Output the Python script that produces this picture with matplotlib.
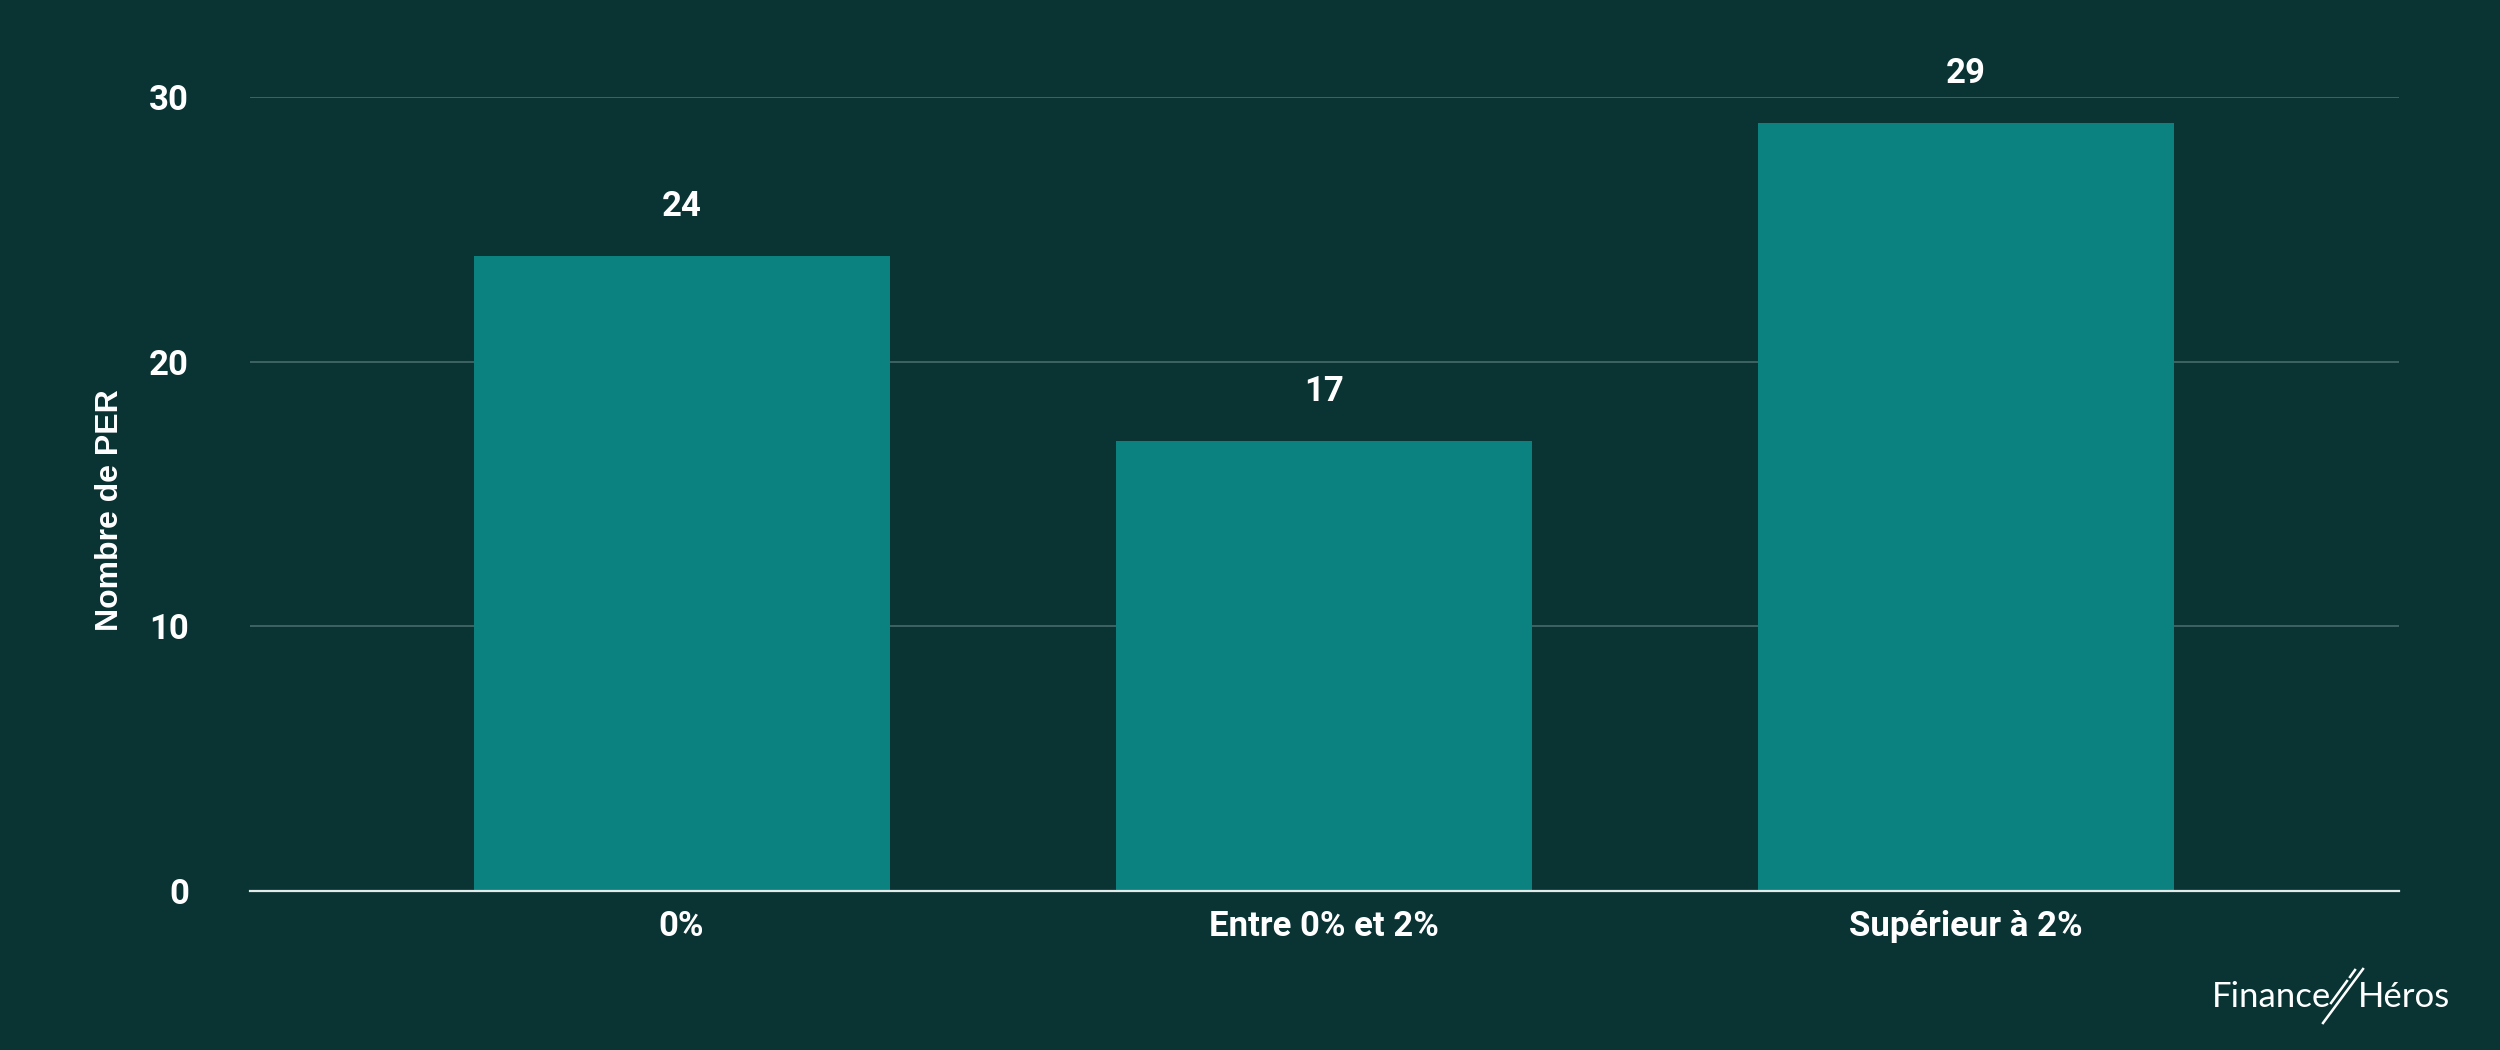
import matplotlib
matplotlib.use("Agg")
import matplotlib.pyplot as plt
from matplotlib.lines import Line2D

# Daten
categories = ["0%", "Entre 0% et 2%", "Supérieur à 2%"]
values = [24, 17, 29]
y_ticks = [0, 10, 20, 30]

BG = "#0a3334"
BAR = "#0b8180"
GRID = "#3f6263"
WHITE = "#ffffff"

fig = plt.figure(figsize=(25, 10.5), dpi=100, facecolor=BG)
ax = fig.add_axes([0.1, 0.1514, 0.8596, 0.7562])
ax.set_facecolor(BG)

x = range(len(categories))
bars = ax.bar(x, values, width=0.648, color=BAR, zorder=3)

# Werte über den Balken
for b, v in zip(bars, values):
    ax.annotate(str(v), (b.get_x() + b.get_width() / 2, v),
                xytext=(0, 29), textcoords="offset points",
                ha="center", va="baseline", color=WHITE,
                fontsize=25, fontweight="bold", family="Roboto")

ax.set_xlim(-0.672, 2.674)
ax.set_ylim(0, 30)
ax.set_yticks(y_ticks)
ax.set_yticklabels([str(t) for t in y_ticks])
ax.set_xticks(list(x))
ax.set_xticklabels(categories)

for lbl in ax.get_xticklabels() + ax.get_yticklabels():
    lbl.set_family("Roboto")
    lbl.set_fontweight("bold")
    lbl.set_fontsize(25)
    lbl.set_color(WHITE)

ax.tick_params(axis="y", length=0, pad=44)
ax.tick_params(axis="x", length=0, pad=14)

ax.yaxis.grid(True, color=GRID, linewidth=1.4, zorder=0)
ax.set_axisbelow(True)
for s in ["top", "right", "left"]:
    ax.spines[s].set_visible(False)
ax.spines["bottom"].set_color("#e3eaea")
ax.spines["bottom"].set_linewidth(1.6)
ax.spines["bottom"].set_zorder(4)

# Achsentitel
fig.text(0.044, 1 - 510 / 1050, "Nombre de PER", rotation=90,
         ha="center", va="center", color=WHITE, fontsize=23,
         fontweight="bold", family="Liberation Sans")

# Logo unten rechts
fig.text(2331 / 2500, 1 - 997 / 1050, "Finance", ha="right", va="center",
         color=WHITE, fontsize=25, family="Lato", fontweight="normal")
fig.text(2358 / 2500, 1 - 997 / 1050, "Héros", ha="left", va="center",
         color=WHITE, fontsize=25, family="Lato", fontweight="normal")
fig.add_artist(Line2D([2323 / 2500, 2363 / 2500], [1 - 1023 / 1050, 1 - 969 / 1050],
                      color=WHITE, linewidth=1.8, transform=fig.transFigure))
fig.add_artist(Line2D([2331 / 2500, 2347 / 2500], [1 - 1003 / 1050, 1 - 981 / 1050],
                      color=WHITE, linewidth=1.8, transform=fig.transFigure))
fig.add_artist(Line2D([2350 / 2500, 2355 / 2500], [1 - 977 / 1050, 1 - 970 / 1050],
                      color=WHITE, linewidth=1.8, transform=fig.transFigure))

fig.savefig("out.png", dpi=100, facecolor=BG)
